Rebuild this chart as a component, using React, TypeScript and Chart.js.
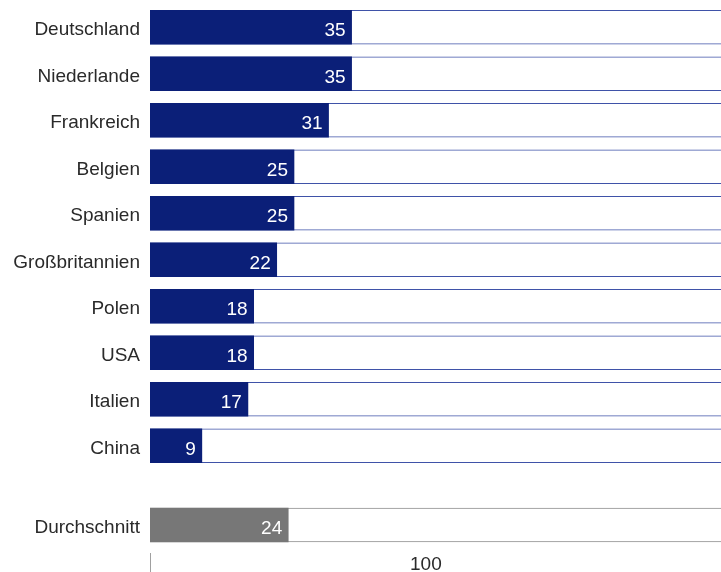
import React, { useEffect, useRef } from "react";
import { Chart, registerables } from "chart.js";

Chart.register(...registerables);

// ---- data ----
const countries = [
  "Deutschland",
  "Niederlande",
  "Frankreich",
  "Belgien",
  "Spanien",
  "Großbritannien",
  "Polen",
  "USA",
  "Italien",
  "China",
];
const countryValues = [35, 35, 31, 25, 25, 22, 18, 18, 17, 9];
const averageLabels = ["Durchschnitt"];
const averageValues = [24];
const fullScale = 100;
const axisTitle = "100";

// ---- styles ----
const FONT = '"Liberation Sans", Arial, Helvetica, sans-serif';
const NAVY = "#0B1F78";
const NAVY_LINE = "#3F52A8";
const GREY = "#777777";
const GREY_LINE = "#8f8f8f";
const TEXT = "#2a2a2a";

const valueLabelPlugin = {
  id: "valueLabels",
  afterDatasetsDraw(chart: any) {
    const ctx = chart.ctx;
    const meta = chart.getDatasetMeta(0);
    const data = chart.data.datasets[0].data;
    ctx.save();
    ctx.font = `19px ${FONT}`;
    ctx.fillStyle = "#ffffff";
    ctx.textAlign = "right";
    ctx.textBaseline = "middle";
    meta.data.forEach((el: any, i: number) => {
      ctx.fillText(String(data[i]), el.x - 6, el.y + 4);
    });
    ctx.restore();
  },
};

const axisPlugin = {
  id: "axisMarks",
  afterDraw(chart: any) {
    const ctx = chart.ctx;
    const xs = chart.scales.x;
    const area = chart.chartArea;
    const x0 = Math.round(xs.getPixelForValue(0)) + 0.5;
    ctx.save();
    ctx.strokeStyle = "#a0a0a0";
    ctx.lineWidth = 1;
    ctx.beginPath();
    ctx.moveTo(x0, area.bottom + 8);
    ctx.lineTo(x0, chart.height);
    ctx.stroke();
    ctx.font = `19px ${FONT}`;
    ctx.fillStyle = TEXT;
    ctx.textAlign = "center";
    ctx.textBaseline = "middle";
    ctx.fillText(axisTitle, area.left + (area.right - area.left) * 0.479, area.bottom + 20);
    ctx.restore();
  },
};

function makeConfig(
  labels: string[],
  values: number[],
  fill: string,
  line: string,
  padding: any,
  extraPlugins: any[]
): any {
  return {
    type: "bar",
    data: {
      labels,
      datasets: [
        {
          data: values,
          backgroundColor: fill,
          borderWidth: 0,
          barThickness: 34,
          grouped: false,
        },
        {
          data: labels.map(() => fullScale),
          backgroundColor: "#ffffff",
          borderColor: line,
          borderWidth: { top: 1, bottom: 1, left: 0, right: 0 },
          borderSkipped: false,
          barThickness: 34,
          grouped: false,
        },
      ],
    },
    options: {
      indexAxis: "y",
      responsive: false,
      animation: false,
      layout: { padding },
      plugins: {
        legend: { display: false },
        tooltip: { enabled: false },
      },
      scales: {
        x: {
          display: false,
          min: 0,
          max: fullScale,
        },
        y: {
          grid: { display: false, drawTicks: false },
          border: { display: false },
          ticks: {
            padding: 10,
            labelOffset: 3,
            color: TEXT,
            font: { family: FONT, size: 19 },
          },
          afterFit(scale: any) {
            scale.width = 150;
            scale.paddingTop = 0;
            scale.paddingBottom = 0;
          },
        },
      },
    },
    plugins: extraPlugins,
  };
}

export default function App() {
  const ref1 = useRef<HTMLCanvasElement>(null);
  const ref2 = useRef<HTMLCanvasElement>(null);

  useEffect(() => {
    const c1 = new Chart(
      ref1.current as HTMLCanvasElement,
      makeConfig(countries, countryValues, NAVY, NAVY_LINE, { top: 4, bottom: 0, left: 0, right: 0 }, [
        valueLabelPlugin,
      ])
    );
    const c2 = new Chart(
      ref2.current as HTMLCanvasElement,
      makeConfig(averageLabels, averageValues, GREY, GREY_LINE, { top: 36, bottom: 27, left: 0, right: 0 }, [
        valueLabelPlugin,
        axisPlugin,
      ])
    );
    return () => {
      c1.destroy();
      c2.destroy();
    };
  }, []);

  return (
    <div
      style={{
        position: "absolute",
        left: 0,
        top: 0,
        width: 721,
        height: 572,
        overflow: "hidden",
        background: "#ffffff",
      }}
    >
      <canvas ref={ref1} width={726} height={469} style={{ display: "block" }} />
      <canvas ref={ref2} width={726} height={103} style={{ display: "block" }} />
    </div>
  );
}
